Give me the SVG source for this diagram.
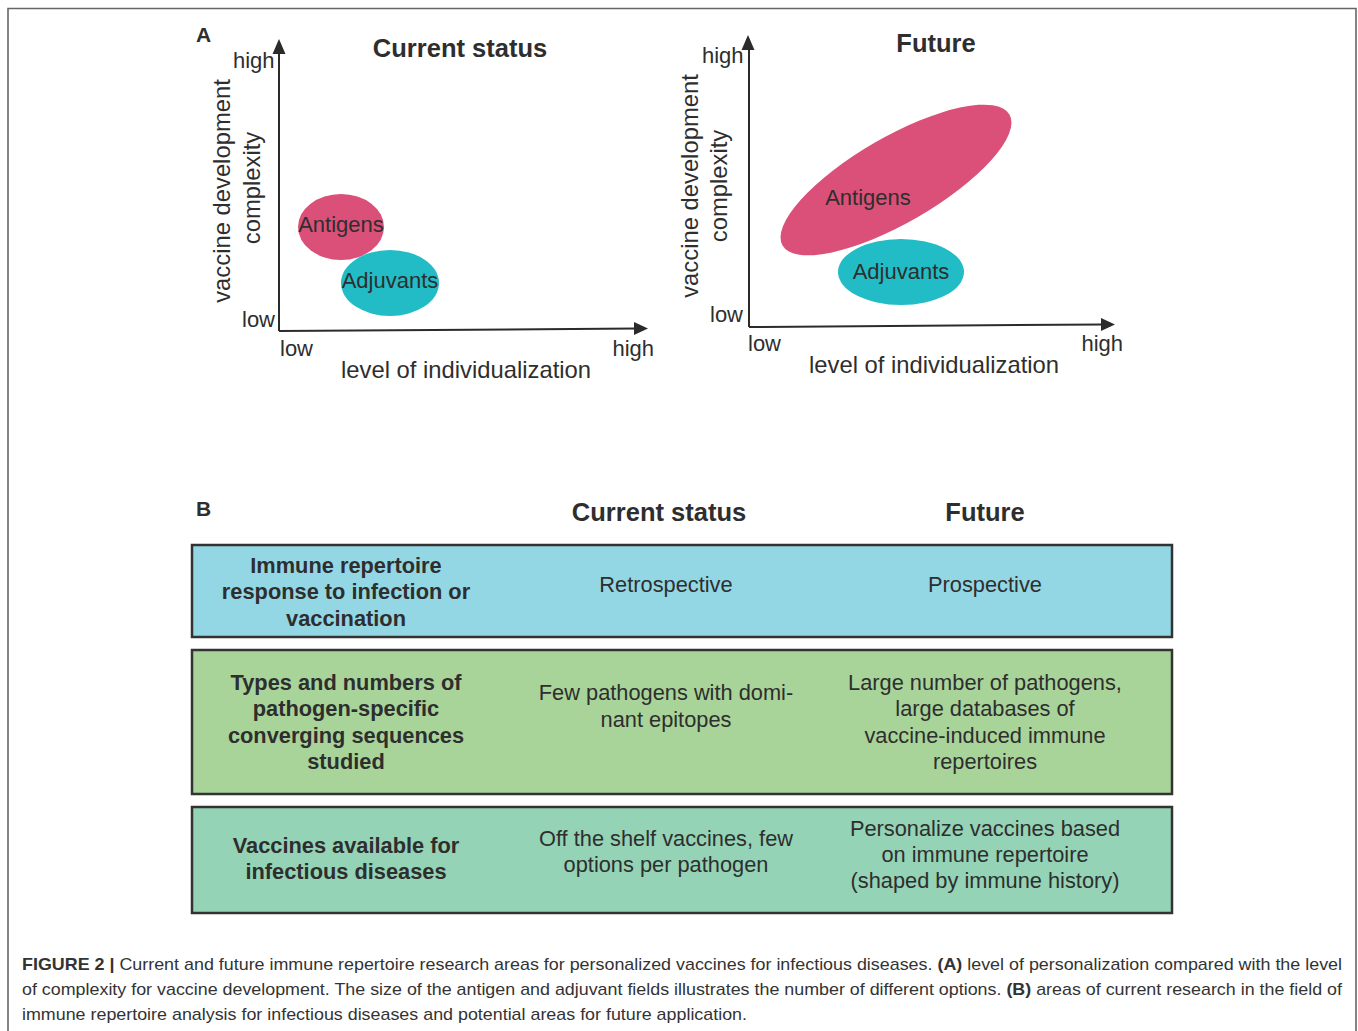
<svg xmlns="http://www.w3.org/2000/svg" width="1358" height="1031" viewBox="0 0 1358 1031">
<defs>
<style>
text{font-family:"Liberation Sans",Arial,sans-serif;fill:#2e2e2e}
.b{font-weight:bold}
.ax{stroke:#2b2b2b;stroke-width:2;fill:none}
.ah{fill:#2b2b2b}
.lbl{font-size:22px}
.big{font-size:23.8px}
.ttl{font-size:25.5px;font-weight:bold;text-anchor:middle}
.mid{text-anchor:middle}
.cell{font-size:21.8px;text-anchor:middle}
.row{stroke:#333;stroke-width:2.5}
.pink{fill:#db5078}
.teal{fill:#21bcc5}
.cap{font-size:17px;fill:#333}
</style>
</defs>
<rect x="0" y="0" width="1358" height="1031" fill="#fff"/>
<g id="frame">
<path d="M8 1031 V8.5 H1356 V1031" fill="none" stroke="#666" stroke-width="1.6"/>
</g>

<!-- Panel A left -->
<g id="panelA-current">
<text x="196" y="42" class="b" font-size="21">A</text>
<text x="460" y="57" class="ttl">Current status</text>
<text x="233" y="68" class="lbl">high</text>
<text x="242" y="327" class="lbl">low</text>
<text x="280" y="356" class="lbl">low</text>
<text x="654" y="356" class="lbl" text-anchor="end">high</text>
<text x="466" y="378" class="big mid">level of individualization</text>
<text x="0" y="0" class="big mid" transform="translate(230 191) rotate(-90)">vaccine development</text>
<text x="0" y="0" class="big mid" transform="translate(260 188) rotate(-90)">complexity</text>
</g>
<g id="antigens-current">
<ellipse cx="341" cy="227" rx="43" ry="33" class="pink"/>
<text x="341" y="232" class="lbl mid">Antigens</text>
</g>
<g id="adjuvants-current">
<ellipse cx="390" cy="283" rx="49" ry="33" class="teal"/>
<text x="390" y="288" class="lbl mid">Adjuvants</text>
</g>

<!-- Panel A right -->
<g id="panelA-future">
<text x="936" y="52" class="ttl">Future</text>
<text x="702" y="63" class="lbl">high</text>
<text x="710" y="322" class="lbl">low</text>
<text x="748" y="351" class="lbl">low</text>
<text x="1123" y="351" class="lbl" text-anchor="end">high</text>
<text x="934" y="373" class="big mid">level of individualization</text>
<text x="0" y="0" class="big mid" transform="translate(698 186) rotate(-90)">vaccine development</text>
<text x="0" y="0" class="big mid" transform="translate(727 186) rotate(-90)">complexity</text>
</g>
<g id="antigens-future">
<ellipse cx="896" cy="180" rx="131" ry="43" transform="rotate(-30 896 180)" class="pink"/>
<text x="868" y="205" class="lbl mid">Antigens</text>
</g>
<g id="adjuvants-future">
<ellipse cx="901" cy="272" rx="63" ry="33" class="teal"/>
<text x="901" y="279" class="lbl mid">Adjuvants</text>
</g>

<g id="connectors">
<path class="ax" d="M279 331 V52"/>
<polygon class="ah" points="279,39 272.5,54 285.5,54"/>
<path class="ax" d="M279 331 L636 328.5"/>
<polygon class="ah" points="648,328.5 634,322 634,335"/>
<path class="ax" d="M749 327 V48"/>
<polygon class="ah" points="748,35 741.5,50 754.5,50"/>
<path class="ax" d="M749 327 L1103 324.5"/>
<polygon class="ah" points="1115,324.5 1101,318 1101,331"/>
</g>

<!-- Panel B -->
<g id="panelB-header">
<text x="196" y="516" class="b" font-size="21">B</text>
<text x="659" y="521" class="ttl">Current status</text>
<text x="985" y="521" class="ttl">Future</text>
</g>

<g id="row1">
<rect x="192" y="545" width="980" height="92" fill="#93d7e5" class="row"/>
<text class="cell b"><tspan x="346" y="573">Immune repertoire</tspan><tspan x="346" y="599">response to infection or</tspan><tspan x="346" y="626">vaccination</tspan></text>
<text x="666" y="592" class="cell">Retrospective</text>
<text x="985" y="592" class="cell">Prospective</text>
</g>

<g id="row2">
<rect x="192" y="650" width="980" height="144" fill="#a8d49a" class="row"/>
<text class="cell b"><tspan x="346" y="690">Types and numbers of</tspan><tspan x="346" y="716">pathogen-specific</tspan><tspan x="346" y="743">converging sequences</tspan><tspan x="346" y="769">studied</tspan></text>
<text class="cell"><tspan x="666" y="700">Few pathogens with domi-</tspan><tspan x="666" y="727">nant epitopes</tspan></text>
<text class="cell"><tspan x="985" y="690">Large number of pathogens,</tspan><tspan x="985" y="716">large databases of</tspan><tspan x="985" y="743">vaccine-induced immune</tspan><tspan x="985" y="769">repertoires</tspan></text>
</g>

<g id="row3">
<rect x="192" y="807" width="980" height="106" fill="#94d3b6" class="row"/>
<text class="cell b"><tspan x="346" y="853">Vaccines available for</tspan><tspan x="346" y="879">infectious diseases</tspan></text>
<text class="cell"><tspan x="666" y="846">Off the shelf vaccines, few</tspan><tspan x="666" y="872">options per pathogen</tspan></text>
<text class="cell"><tspan x="985" y="836">Personalize vaccines based</tspan><tspan x="985" y="862">on immune repertoire</tspan><tspan x="985" y="888">(shaped by immune history)</tspan></text>
</g>

<g id="caption">
<text class="cap" x="22" y="970" textLength="1320" lengthAdjust="spacingAndGlyphs"><tspan class="b">FIGURE 2 |</tspan> Current and future immune repertoire research areas for personalized vaccines for infectious diseases. <tspan class="b">(A)</tspan> level of personalization compared with the level</text>
<text class="cap" x="22" y="995" textLength="1320" lengthAdjust="spacingAndGlyphs">of complexity for vaccine development. The size of the antigen and adjuvant fields illustrates the number of different options. <tspan class="b">(B)</tspan> areas of current research in the field of</text>
<text class="cap" x="22" y="1020" textLength="725" lengthAdjust="spacingAndGlyphs">immune repertoire analysis for infectious diseases and potential areas for future application.</text>
</g>
</svg>
